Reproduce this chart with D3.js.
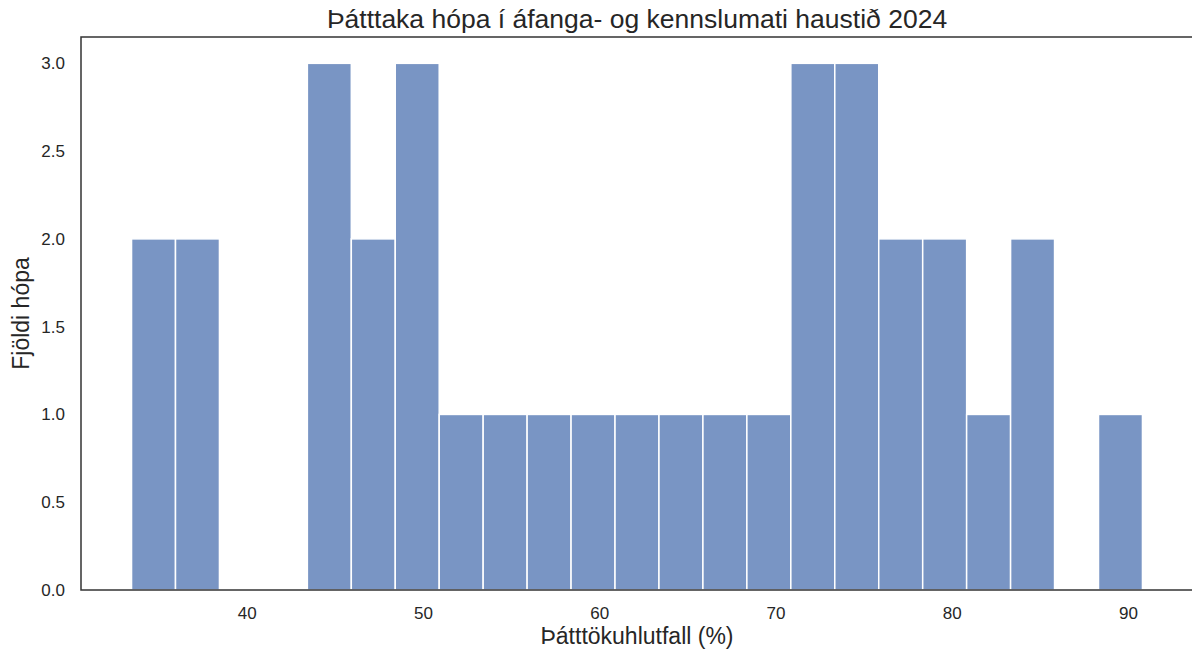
<!DOCTYPE html>
<html><head><meta charset="utf-8">
<script src="https://cdn.jsdelivr.net/npm/d3@7"></script>
<style>body{margin:0;background:#fff}svg{display:block}text{font-family:"Liberation Sans",Arial,sans-serif;fill:#262626}</style>
</head><body><svg id="c" width="1192" height="655"></svg>
<script>
const title = "Þátttaka hópa í áfanga- og kennslumati haustið 2024";
const xLabel = "Þátttökuhlutfall (%)";
const yLabel = "Fjöldi hópa";
const binStart = 33.47;
const binWidth = 2.4935;
const counts = [2,2,0,0,3,2,3,1,1,1,1,1,1,1,1,3,3,2,2,1,2,0,1];
const xTicks = [40,50,60,70,80,90];
const yTicks = [0,0.5,1,1.5,2,2.5,3];

const svg = d3.select("#c");
const m = {l:81, r:-1, t:37, b:65};
const W = 1192, H = 655;
const bins = counts.map((c,i)=>({x0: binStart + i*binWidth, x1: binStart + (i+1)*binWidth, c}));
const xmin = bins[0].x0, xmax = bins[bins.length-1].x1, pad = (xmax-xmin)*0.05;
const x = d3.scaleLinear().domain([xmin-pad, xmax+pad]).range([m.l, W-m.r]);
const y = d3.scaleLinear().domain([0, 3.15]).range([H-m.b, m.t]);
const ff = '"Liberation Sans",Arial,sans-serif';

svg.append("g").selectAll("rect").data(bins.filter(b=>b.c>0)).join("rect")
  .attr("x", d=>x(d.x0)).attr("width", d=>x(d.x1)-x(d.x0))
  .attr("y", d=>y(d.c)).attr("height", d=>y(0)-y(d.c))
  .attr("fill", "rgb(121,149,196)").attr("stroke", "#fff").attr("stroke-width", 1.5);

const xa = svg.append("g").attr("transform", `translate(0,${H-m.b})`)
  .call(d3.axisBottom(x).tickValues(xTicks).tickSize(0).tickPadding(17).tickFormat(d3.format("d")));
xa.attr("font-size", 17).attr("font-family", ff);
xa.select(".domain").remove();
xa.selectAll("text").attr("fill", "#333");

const ya = svg.append("g").attr("transform", `translate(${m.l},0)`)
  .call(d3.axisLeft(y).tickValues(yTicks).tickSize(0).tickPadding(16).tickFormat(d3.format(".1f")));
ya.attr("font-size", 17).attr("font-family", ff);
ya.select(".domain").remove();
ya.selectAll("text").attr("fill", "#333");

svg.append("rect").attr("x", m.l).attr("y", m.t).attr("width", W-m.r-m.l).attr("height", H-m.b-m.t)
  .attr("fill", "none").attr("stroke", "#333").attr("stroke-width", 1.5);

svg.append("text").attr("x", (m.l + W - m.r)/2).attr("y", 28).attr("text-anchor","middle").attr("font-size", 26.5).text(title);
svg.append("text").attr("x", (m.l + W - m.r)/2).attr("y", 644).attr("text-anchor","middle").attr("font-size", 23).text(xLabel);
svg.append("text").attr("transform", `translate(29,${(m.t+H-m.b)/2}) rotate(-90)`).attr("text-anchor","middle").attr("font-size", 23).text(yLabel);
</script></body></html>
